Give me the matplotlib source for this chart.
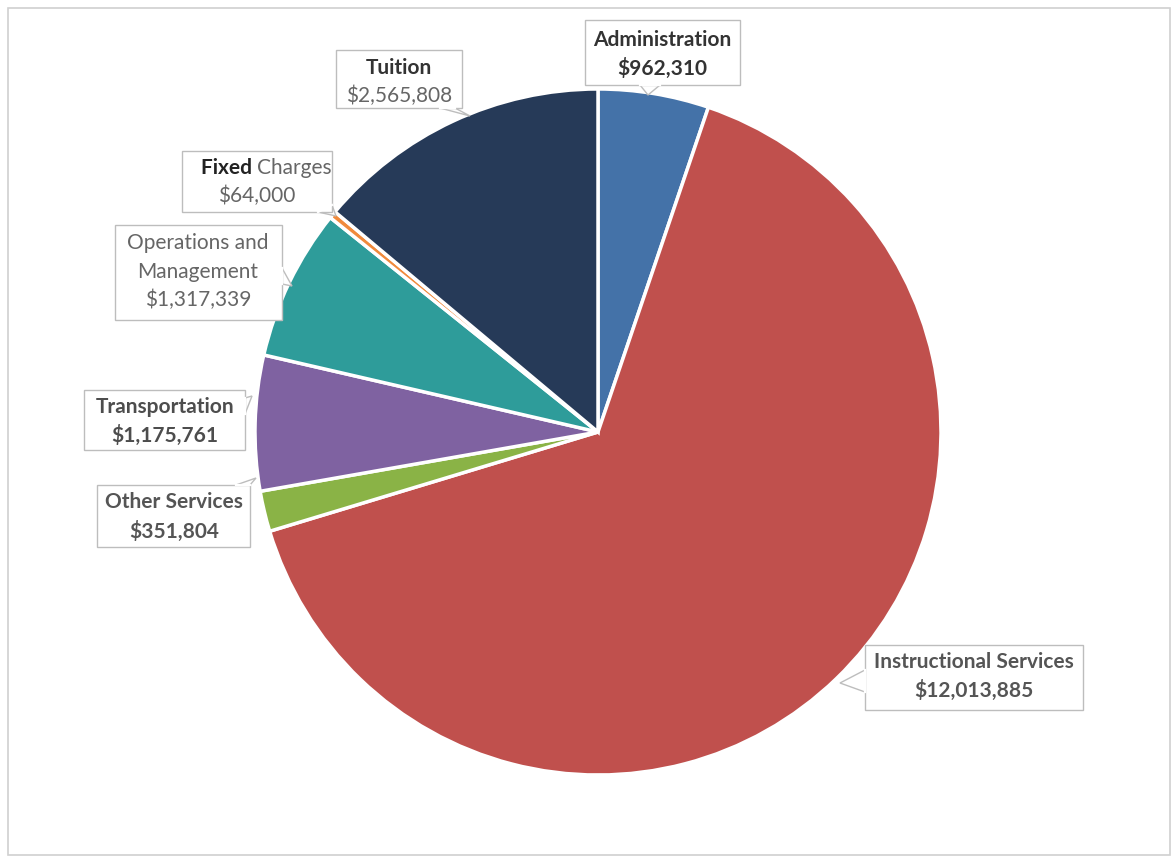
import matplotlib
matplotlib.use("Agg")
import matplotlib.pyplot as plt
from matplotlib.patches import Rectangle, Polygon

categories = ["Administration", "Instructional Services", "Other Services", "Transportation",
              "Operations and Management", "Fixed Charges", "Tuition"]
values = [962310, 12013885, 351804, 1175761, 1317339, 64000, 2565808]
value_labels = ["$962,310", "$12,013,885", "$351,804", "$1,175,761", "$1,317,339", "$64,000", "$2,565,808"]
colors = ["#4472a8", "#c0504d", "#8ab346", "#7f62a1", "#2e9c9a", "#f08a3c", "#263a58"]

W, H = 1173, 858
fig = plt.figure(figsize=(W / 100, H / 100), dpi=100)
plt.rcParams['font.family'] = ['Lato', 'DejaVu Sans']

# pie axes (square, pixel based)
cx, cy, R = 598, 432, 343
half = 350
ax = fig.add_axes([(cx - half) / W, (H - cy - half) / H, 2 * half / W, 2 * half / H])
ax.pie(values, colors=colors, startangle=90, counterclock=False, radius=R,
       wedgeprops=dict(edgecolor="white", linewidth=2.5))
ax.set_xlim(-half, half)
ax.set_ylim(-half, half)
ax.set_aspect("equal")
ax.axis("off")

# overlay in pixel coordinates
ov = fig.add_axes([0, 0, 1, 1], zorder=5)
ov.set_xlim(0, W)
ov.set_ylim(H, 0)
ov.axis("off")
ov.patch.set_alpha(0)

ov.add_patch(Rectangle((8, 8), 1162, 847, fill=False, edgecolor="#d0d0d0", linewidth=1.2))

dark = "#333333"
grey = "#666666"

# box: (x0, y0, x1, y1), pointer: (base pt1, base pt2, tip)
boxes = {
    "Administration": ((585, 20, 740, 85), ((640, 85), (660, 85), (648, 95))),
    "Tuition": ((336, 50, 462, 108), ((440, 108), (455, 108), (470, 116))),
    "Fixed Charges": ((182, 151, 332, 212), ((318, 212), (332, 205), (336, 216))),
    "Operations and Management": ((115, 225, 282, 320), ((282, 268), (282, 284), (292, 286))),
    "Transportation": ((84, 390, 245, 450), ((245, 398), (245, 414), (252, 396))),
    "Other Services": ((97, 485, 250, 547), ((236, 485), (250, 485), (256, 478))),
    "Instructional Services": ((865, 645, 1083, 710), ((865, 670), (865, 692), (840, 683))),
}

for (x0, y0, x1, y1), pts in boxes.values():
    ov.add_patch(Polygon(list(pts), closed=True, facecolor="white", edgecolor="#bdbdbd",
                         linewidth=1.0, zorder=3))
    ov.add_patch(Rectangle((x0, y0), x1 - x0, y1 - y0, facecolor="white",
                           edgecolor="#bdbdbd", linewidth=1.0, zorder=4))
    p1, p2, _ = pts
    ov.plot([p1[0], p2[0]], [p1[1], p2[1]], color="white", linewidth=1.6, zorder=5)

fs = 15
def t(x, y, s, color=grey, weight="normal"):
    ov.text(x, y, s, ha="center", va="center", fontsize=fs, color=color,
            fontweight=weight, zorder=6)

# Administration
t(662, 40, categories[0], dark, "bold")
t(662, 68, value_labels[0], dark, "bold")
# Tuition
t(399, 68, categories[6], dark, "bold")
t(399, 96, value_labels[6], grey)
# Fixed Charges (mixed)
ov.text(257, 168, "Fixed ", ha="right", va="center", fontsize=fs, color="#222222",
        fontweight="bold", zorder=6)
ov.text(257, 168, "Charges", ha="left", va="center", fontsize=fs, color=grey, zorder=6)
t(257, 196, value_labels[5], grey)
# Operations and Management
t(198, 243, "Operations and", grey)
t(198, 272, "Management", grey)
t(198, 300, value_labels[4], grey)
# Transportation
t(165, 407, categories[3], "#4d4d4d", "bold")
t(165, 435, value_labels[3], "#4d4d4d", "bold")
# Other Services
t(174, 502, categories[2], "#555555", "bold")
t(174, 531, value_labels[2], "#555555", "bold")
# Instructional Services
t(974, 662, categories[1], "#555555", "bold")
t(974, 690, value_labels[1], "#555555", "bold")

fig.savefig("out.png", dpi=100, facecolor="white")
